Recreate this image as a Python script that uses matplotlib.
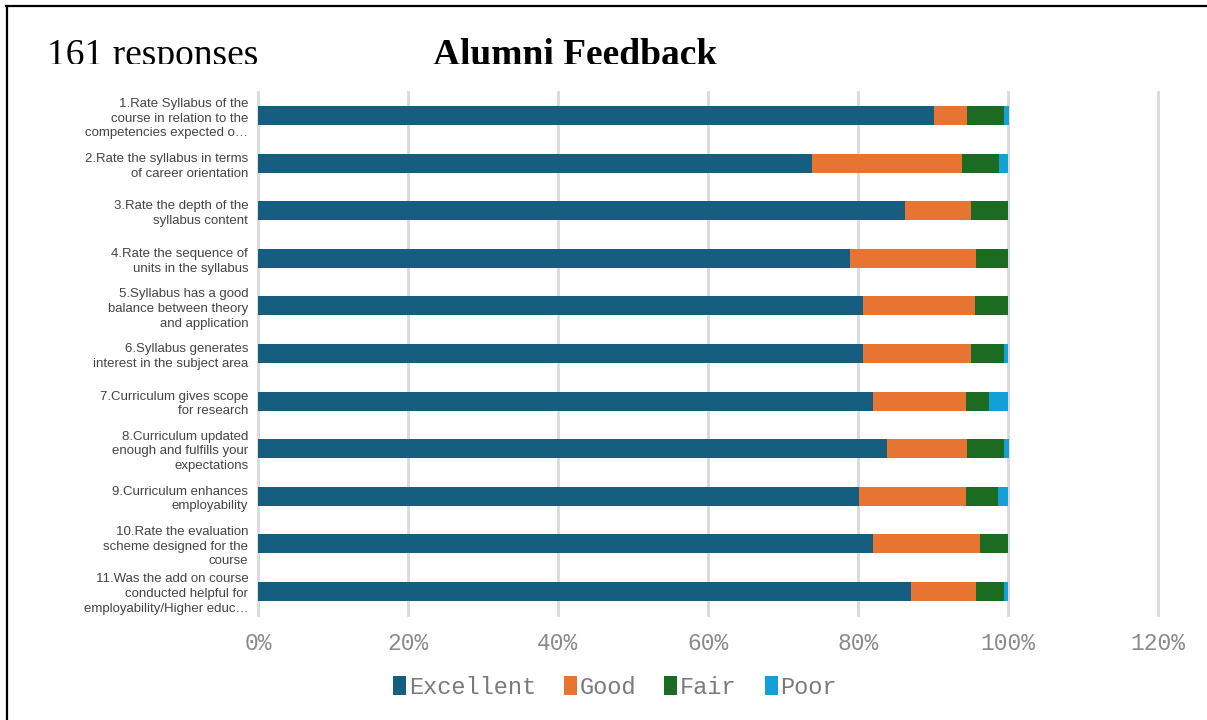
import numpy as np
import matplotlib
matplotlib.use("Agg")
import matplotlib.pyplot as plt
from matplotlib.patches import Rectangle
from matplotlib.lines import Line2D
from matplotlib.ticker import FuncFormatter

questions = [
    "1.Rate Syllabus of the\ncourse in relation to the\ncompetencies expected o…",
    "2.Rate the syllabus in terms\nof career orientation",
    "3.Rate the depth of the\nsyllabus content",
    "4.Rate the sequence of\nunits in the syllabus",
    "5.Syllabus has a good\nbalance between theory\nand application",
    "6.Syllabus generates\ninterest in the subject area",
    "7.Curriculum gives scope\nfor research",
    "8.Curriculum updated\nenough and fulfills your\nexpectations",
    "9.Curriculum enhances\nemployability",
    "10.Rate the evaluation\nscheme designed for the\ncourse",
    "11.Was the add on course\nconducted helpful for\nemployability/Higher educ…",
]

# percentages of 161 responses
excellent = [90.1, 73.9, 86.3, 78.9, 80.7, 80.7, 82.0, 83.9, 80.1, 82.0, 87.0]
good      = [4.4, 19.9, 8.7, 16.8, 14.9, 14.3, 12.4, 10.6, 14.3, 14.3, 8.7]
fair      = [5.0, 5.0, 5.0, 4.3, 4.4, 4.4, 3.1, 5.0, 4.3, 3.7, 3.7]
poor      = [0.6, 1.2, 0.0, 0.0, 0.0, 0.6, 2.5, 0.6, 1.3, 0.0, 0.6]

series = ["Excellent", "Good", "Fair", "Poor"]
colors = ["#165E80", "#E87433", "#1B6B23", "#12A0D7"]
xticks = [0, 20, 40, 60, 80, 100, 120]

fig = plt.figure(figsize=(12.07, 7.2), dpi=100)
W, H = 1207, 720

# header texts, bottoms hidden under the chart panel like the original
fig.text(47 / W, 1 - 65 / H, "161 responses", family="Liberation Serif",
         fontsize=27, ha="left", va="baseline", color="black", zorder=3)
fig.text(575 / W, 1 - 65 / H, "Alumni Feedback", family="Liberation Serif",
         fontsize=27, fontweight="bold", ha="center", va="baseline",
         color="black", zorder=3)
fig.patches.append(Rectangle((10 / W, 0), 1, 1 - 64 / H, transform=fig.transFigure,
                             facecolor="white", edgecolor="none", zorder=5))

# frame lines (top and left)
fig.lines.append(Line2D([6 / W, 1], [1 - 6 / H, 1 - 6 / H], transform=fig.transFigure,
                        color="black", lw=1.6, zorder=6))
fig.lines.append(Line2D([7 / W, 7 / W], [0, 1 - 6 / H], transform=fig.transFigure,
                        color="black", lw=1.6, zorder=6))

ax = fig.add_axes([258 / W, 1 - 615 / H, 900 / W, 523 / H])
ax.set_zorder(10)
ax.patch.set_alpha(0)

y = np.arange(len(questions))
left = np.zeros(len(questions))
for name, vals, c in zip(series, [excellent, good, fair, poor], colors):
    vals = np.array(vals)
    ax.barh(y, vals, left=left, height=0.4, color=c, edgecolor="none",
            label=name, zorder=3)
    left += vals

ax.set_xlim(0, 120)
ax.set_ylim(len(questions) - 0.5, -0.5)
ax.set_xticks(xticks)
ax.xaxis.set_major_formatter(FuncFormatter(lambda v, p: f"{v:.0f}%"))
ax.set_yticks(y)
ax.set_yticklabels(questions, family="Liberation Sans", fontsize=9.5,
                   color="#444444", linespacing=1.3)
for lab in ax.get_xticklabels():
    lab.set_family("Liberation Mono")
    lab.set_fontsize(16.5)
    lab.set_color("#8a8a8a")
ax.tick_params(axis="both", length=0)
ax.tick_params(axis="x", pad=12)
ax.tick_params(axis="y", pad=7)
ax.grid(axis="x", color="#d9d9d9", lw=2, zorder=0)
for gl in ax.get_xgridlines():
    gl.set_clip_on(False)
for s in ax.spines.values():
    s.set_visible(False)

leg = fig.legend(loc="center", bbox_to_anchor=(615 / W, 1 - 687 / H), ncol=4,
                 frameon=False, handlelength=0.55, handleheight=0.9,
                 handletextpad=0.1, columnspacing=1.2,
                 prop={"family": "Liberation Mono", "size": 17})
leg.set_zorder(11)
for t in leg.get_texts():
    t.set_color("#7a7a7a")

fig.savefig("out.png", dpi=100)
